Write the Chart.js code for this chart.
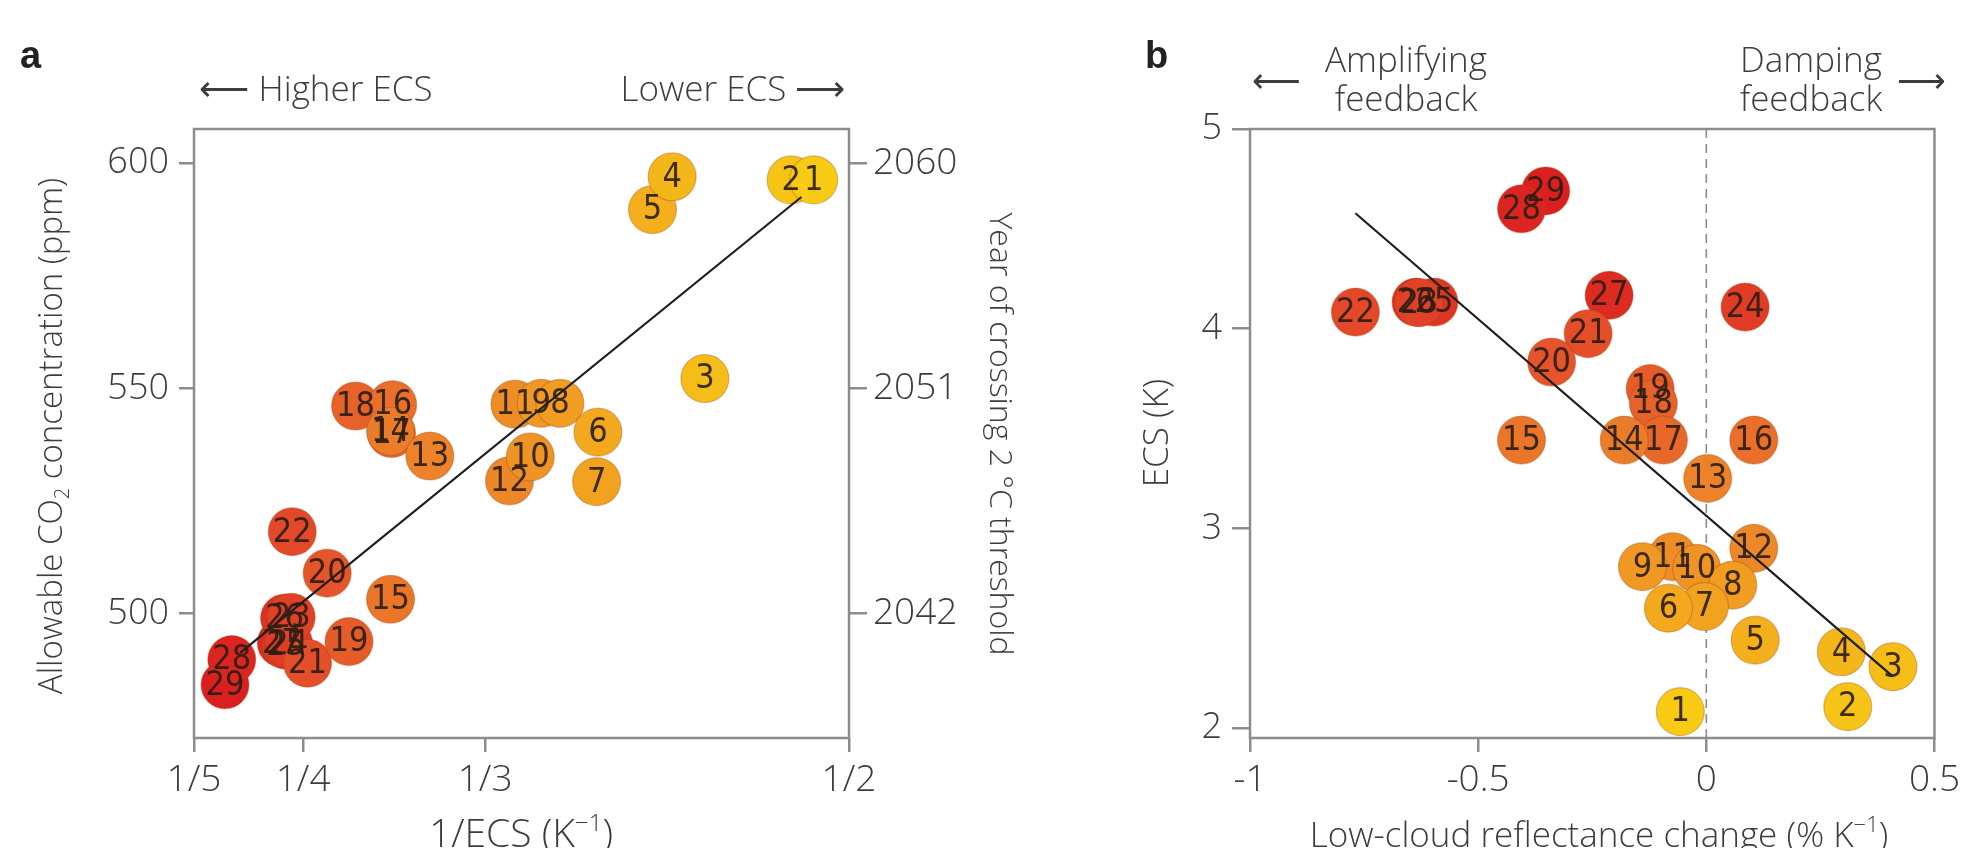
<!DOCTYPE html>
<html>
<head>
<meta charset="utf-8">
<title>ECS, allowable CO2 and low-cloud feedback</title>
<script src="https://cdn.jsdelivr.net/npm/chart.js@4.4.1/dist/chart.umd.min.js"></script>
<style>
  html, body { margin: 0; padding: 0; background: #fff; }
  body { width: 1966px; height: 848px; position: relative; overflow: hidden; }
  canvas { position: absolute; top: 0; }
  #chartA { left: 0; }
  #chartB { left: 1000px; }
</style>
</head>
<body>
<canvas id="chartA" width="1040" height="848"></canvas>
<canvas id="chartB" width="966" height="848"></canvas>
<script>
// model numbers (1 = lowest ECS, 29 = highest)
const models = [1, 2, 3, 4, 5, 6, 7, 8, 9, 10, 11, 12, 13, 14, 15, 16, 17, 18, 19, 20, 21, 22, 23, 24, 25, 26, 27, 28, 29];

// panel a: 1/ECS (K^-1) and allowable CO2 (ppm)
const inverseEcs = [0.4838, 0.4735, 0.434, 0.419, 0.410, 0.385, 0.3844, 0.3676, 0.359, 0.354, 0.347, 0.3445, 0.308, 0.290, 0.290, 0.291, 0.2905, 0.274, 0.271, 0.261, 0.252, 0.245, 0.2445, 0.2434, 0.242, 0.2415, 0.240, 0.2173, 0.2142];
const allowableCo2 = [596.3, 596.3, 552.2, 597.0, 589.7, 540.3, 529.3, 546.7, 546.7, 534.8, 546.5, 529.5, 535.0, 540.5, 503.2, 546.4, 540.0, 546.1, 493.8, 509.0, 489.0, 518.2, 499.2, 493.3, 493.0, 499.0, 493.5, 489.8, 484.2];
const fitAX = [0.2211, 0.4782];
const fitAY = [491.3, 592.5];

// panel b: low-cloud reflectance change (% K^-1) and ECS (K)
const cloudChange = [-0.057, 0.31, 0.409, 0.296, 0.107, -0.083, -0.004, 0.058, -0.140, -0.021, -0.074, 0.104, 0.003, -0.180, -0.405, 0.104, -0.094, -0.116, -0.123, -0.339, -0.259, -0.769, -0.63, 0.085, -0.597, -0.636, -0.213, -0.405, -0.352];
const ecsValues = [2.082, 2.107, 2.307, 2.382, 2.44, 2.60, 2.608, 2.716, 2.808, 2.80, 2.858, 2.90, 3.25, 3.442, 3.442, 3.442, 3.442, 3.625, 3.70, 3.833, 3.975, 4.083, 4.13, 4.108, 4.133, 4.133, 4.167, 4.60, 4.69];
const fitBX = [-0.769, 0.409];
const fitBY = [4.578, 2.257];

// ticks
const ticksAX = [0.2, 0.25, 1 / 3, 0.5];
const tickLabelsAX = ["1/5", "1/4", "1/3", "1/2"];
const ticksAY = [500, 550, 600];
const ticksAYear = [2042, 2051, 2060];
const ticksBX = [-1, -0.5, 0, 0.5];
const tickLabelsBX = ["-1", "-0.5", "0", "0.5"];
const ticksBY = [2, 3, 4, 5];

const FONT = '"Open Sans", "DejaVu Sans", sans-serif';
const NARROW = '"Liberation Sans Narrow", "DejaVu Sans Condensed", sans-serif';
const AXIS_GREY = "#8c8c8c";
const TEXT = "#3c3c3c";

// ppm -> year of crossing, fixed by the two axes' tick pairs
function ppmToYear(v) {
  return ticksAYear[0] + (v - ticksAY[0]) * (ticksAYear[2] - ticksAYear[0]) / (ticksAY[2] - ticksAY[0]);
}

const colorStops = [[0, [247, 203, 20]], [0.2, [241, 165, 31]], [0.45, [235, 127, 42]], [0.7, [228, 80, 42]], [1, [219, 31, 31]]];
function modelColor(n) {
  const t = (n - 1) / (models.length - 1);
  for (let i = 1; i < colorStops.length; i++) {
    if (t <= colorStops[i][0]) {
      const [t0, c0] = colorStops[i - 1];
      const [t1, c1] = colorStops[i];
      const f = (t - t0) / (t1 - t0);
      const c = c0.map((v, k) => Math.round(v + (c1[k] - v) * f));
      return `rgb(${c[0]}, ${c[1]}, ${c[2]})`;
    }
  }
  return "rgb(219, 31, 31)";
}

// draw highest model first so low numbers sit on top
const drawOrder = models.map((m, i) => i).reverse();

function fixedTicks(values) {
  return scale => { scale.ticks = values.map(v => ({ value: v })); };
}

function drawRich(ctx, item) {
  const size = item.size || 32;
  const family = item.family || FONT;
  const weight = item.weight || "300";
  const small = Math.round(size * 0.62);
  ctx.save();
  ctx.translate(item.x, item.y);
  ctx.rotate(item.rotate || 0);
  ctx.fillStyle = item.color || TEXT;
  ctx.textBaseline = "alphabetic";
  ctx.textAlign = "left";
  const widths = item.segs.map(s => {
    ctx.font = `${weight} ${s.sup || s.sub ? small : size}px ${family}`;
    return ctx.measureText(s.t).width;
  });
  const total = widths.reduce((a, b) => a + b, 0);
  let cx = item.align === "left" ? 0 : -total / 2;
  item.segs.forEach((s, i) => {
    ctx.font = `${weight} ${s.sup || s.sub ? small : size}px ${family}`;
    const dy = s.sup ? -size * 0.42 : s.sub ? size * 0.22 : 0;
    ctx.fillText(s.t, cx, dy);
    cx += widths[i];
  });
  ctx.restore();
}

function textPlugin(items) {
  return {
    id: "texts",
    afterDraw(chart) {
      items.forEach(item => drawRich(chart.ctx, item));
    }
  };
}

function framePlugin(zeroLine) {
  return {
    id: "frame",
    beforeDatasetsDraw(chart) {
      const { ctx, chartArea: a } = chart;
      ctx.save();
      if (zeroLine) {
        const x = chart.scales.x.getPixelForValue(0);
        ctx.setLineDash([9, 6]);
        ctx.strokeStyle = AXIS_GREY;
        ctx.lineWidth = 1.6;
        ctx.beginPath();
        ctx.moveTo(x, a.top);
        ctx.lineTo(x, a.bottom);
        ctx.stroke();
        ctx.setLineDash([]);
      }
      ctx.strokeStyle = AXIS_GREY;
      ctx.lineWidth = 2.5;
      ctx.strokeRect(a.left, a.top, a.right - a.left, a.bottom - a.top);
      ctx.restore();
    }
  };
}

const numberLabels = {
  id: "numberLabels",
  afterDatasetsDraw(chart) {
    const meta = chart.getDatasetMeta(1);
    const names = chart.data.datasets[1].modelNames;
    const ctx = chart.ctx;
    ctx.save();
    ctx.font = `34px ${NARROW}`;
    ctx.fillStyle = "rgba(45, 30, 20, 0.92)";
    ctx.textAlign = "center";
    ctx.textBaseline = "middle";
    meta.data.forEach((pt, i) => ctx.fillText(String(names[i]), pt.x, pt.y + 1));
    ctx.restore();
  }
};

function gridOpts(len) {
  return { display: true, drawOnChartArea: false, drawTicks: true, tickLength: len, color: AXIS_GREY, lineWidth: 2.5 };
}

function tickFont(size) {
  return { family: FONT, size: size, weight: "300" };
}

function scatterData(xs, ys) {
  return drawOrder.map(i => ({ x: xs[i], y: ys[i] }));
}

function pointDataset(xs, ys) {
  return {
    type: "scatter",
    data: scatterData(xs, ys),
    modelNames: drawOrder.map(i => models[i]),
    backgroundColor: drawOrder.map(i => modelColor(models[i])),
    borderColor: "rgba(160, 70, 20, 0.35)",
    borderWidth: 1.2,
    pointRadius: 24,
    pointHoverRadius: 24,
    clip: false
  };
}

function fitDataset(xs, ys) {
  return {
    type: "line",
    data: xs.map((x, i) => ({ x: x, y: ys[i] })),
    borderColor: "#1e1e1e",
    borderWidth: 2.2,
    pointRadius: 0,
    fill: false,
    clip: false
  };
}

const common = {
  responsive: false,
  animation: false,
  events: [],
  plugins: { legend: { display: false }, tooltip: { enabled: false } }
};

new Chart(document.getElementById("chartA"), {
  type: "scatter",
  data: { datasets: [fitDataset(fitAX, fitAY), pointDataset(inverseEcs, allowableCo2)] },
  options: {
    ...common,
    layout: { padding: { top: 129, left: 0, right: 0, bottom: 0 } },
    scales: {
      x: {
        type: "linear", min: 0.2, max: 0.5,
        afterBuildTicks: fixedTicks(ticksAX),
        afterFit: s => { s.height = 110; },
        grid: gridOpts(14), border: { display: false },
        ticks: { padding: 6, color: TEXT, font: tickFont(37), callback: (v, i) => tickLabelsAX[i] }
      },
      y: {
        type: "linear", min: 472.4, max: 607.6,
        afterBuildTicks: fixedTicks(ticksAY),
        afterFit: s => { s.width = 194; },
        grid: gridOpts(15), border: { display: false },
        ticks: { padding: 10, color: TEXT, font: tickFont(36), callback: v => String(v) }
      },
      year: {
        type: "linear", position: "right", min: ppmToYear(472.4), max: ppmToYear(607.6),
        afterBuildTicks: fixedTicks(ticksAYear),
        afterFit: s => { s.width = 191; },
        grid: gridOpts(18), border: { display: false },
        ticks: { padding: 6, color: TEXT, font: tickFont(37), callback: v => String(v) }
      }
    }
  },
  plugins: [framePlugin(false), numberLabels, textPlugin([
    { segs: [{ t: "a" }], x: 20, y: 68, size: 38, weight: "bold", family: '"Liberation Sans", sans-serif', align: "left", color: "#222" },
    { segs: [{ t: "\u27F5 Higher ECS" }], x: 316, y: 101, size: 35 },
    { segs: [{ t: "Lower ECS \u27F6" }], x: 733, y: 101, size: 35 },
    { segs: [{ t: "Allowable CO" }, { t: "2", sub: true }, { t: " concentration (ppm)" }], x: 62, y: 436, size: 33, rotate: -Math.PI / 2 },
    { segs: [{ t: "Year of crossing 2 \u00B0C threshold" }], x: 990, y: 434, size: 32, rotate: Math.PI / 2 },
    { segs: [{ t: "1/ECS (K" }, { t: "\u22121", sup: true }, { t: ")" }], x: 521, y: 847, size: 39 }
  ])]
});

new Chart(document.getElementById("chartB"), {
  type: "scatter",
  data: { datasets: [fitDataset(fitBX, fitBY), pointDataset(cloudChange, ecsValues)] },
  options: {
    ...common,
    layout: { padding: { top: 129, left: 0, right: 18, bottom: 0 } },
    scales: {
      x: {
        type: "linear", min: -1, max: 0.5,
        afterBuildTicks: fixedTicks(ticksBX),
        afterFit: s => { s.height = 110; },
        grid: gridOpts(14), border: { display: false },
        ticks: { padding: 6, color: TEXT, font: tickFont(37), callback: (v, i) => tickLabelsBX[i] }
      },
      y: {
        type: "linear", min: 1.95, max: 5,
        afterBuildTicks: fixedTicks(ticksBY),
        afterFit: s => { s.width = 250; },
        grid: gridOpts(18), border: { display: false },
        ticks: { padding: 10, color: TEXT, font: tickFont(36), callback: v => String(v) }
      }
    }
  },
  plugins: [framePlugin(true), numberLabels, textPlugin([
    { segs: [{ t: "b" }], x: 145, y: 68, size: 38, weight: "bold", family: '"Liberation Sans", sans-serif', align: "left", color: "#222" },
    { segs: [{ t: "Amplifying" }], x: 406, y: 72, size: 35 },
    { segs: [{ t: "feedback" }], x: 406, y: 111, size: 35 },
    { segs: [{ t: "\u27F5" }], x: 276, y: 92, size: 34 },
    { segs: [{ t: "Damping" }], x: 811, y: 72, size: 35 },
    { segs: [{ t: "feedback" }], x: 811, y: 111, size: 35 },
    { segs: [{ t: "\u27F6" }], x: 921, y: 92, size: 34 },
    { segs: [{ t: "ECS (K)" }], x: 168, y: 433, size: 35, rotate: -Math.PI / 2 },
    { segs: [{ t: "Low-cloud reflectance change (% K" }, { t: "\u22121", sup: true }, { t: ")" }], x: 599, y: 847, size: 35 }
  ])]
});
</script>
</body>
</html>
